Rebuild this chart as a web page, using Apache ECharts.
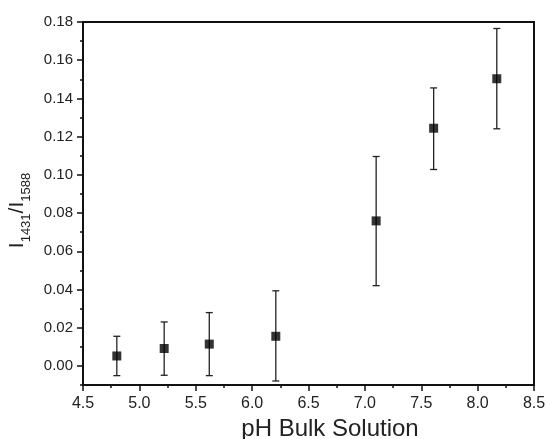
<!DOCTYPE html>
<html>
<head>
<meta charset="utf-8">
<script src="https://cdn.jsdelivr.net/npm/echarts@6/dist/echarts.min.js"></script>
<style>
  html, body { margin: 0; padding: 0; background: #fff; }
  #chart-container { width: 548px; height: 439px; }
</style>
</head>
<body>
<div id="chart-container"></div>
<script>
var phValues = [4.80, 5.22, 5.62, 6.21, 7.10, 7.61, 8.17];
var ratioValues = [0.0052, 0.0091, 0.0114, 0.0155, 0.0759, 0.1244, 0.1503];
var errTop = [0.0155, 0.0230, 0.0279, 0.0393, 0.1096, 0.1455, 0.1766];
var errBottom = [-0.0051, -0.0049, -0.0051, -0.0079, 0.0420, 0.1028, 0.1241];
var yLabelValues = [0, 0.02, 0.04, 0.06, 0.08, 0.10, 0.12, 0.14, 0.16, 0.18];

var dom = document.getElementById('chart-container');
var myChart = echarts.init(dom, null, { renderer: 'canvas' });

var points = phValues.map(function (x, i) { return [x, ratioValues[i]]; });
var bars = phValues.map(function (x, i) { return [x, errBottom[i], errTop[i]]; });
var font = 'Liberation Sans, Arial, sans-serif';

var option = {
    animation: false,
    grid: {
        left: 83, right: 14, top: 22, bottom: 54,
        outerBoundsMode: 'none',
        containLabel: false,
        show: true, borderColor: '#111', borderWidth: 2
    },
    xAxis: {
        type: 'value',
        min: 4.5, max: 8.5, interval: 0.5,
        name: 'pH Bulk Solution',
        nameLocation: 'middle',
        nameGap: 32,
        nameTextStyle: { fontFamily: font, fontSize: 24, color: '#222', padding: [0, 0, 0, 43] },
        axisLine: { onZero: false, lineStyle: { color: '#111', width: 2 } },
        axisTick: { length: 6, lineStyle: { color: '#111', width: 1.5 } },
        minorTick: { show: true, splitNumber: 2, length: 3, lineStyle: { color: '#111', width: 1.5 } },
        splitLine: { show: false },
        axisLabel: {
            fontFamily: font, fontSize: 16, color: '#222', margin: 11,
            formatter: function (v) { return v.toFixed(1); }
        }
    },
    yAxis: [{
        type: 'value',
        min: -0.01, max: 0.18, interval: 0.01,
        name: '{m|I}{s|1431}{m|/I}{s|1588}',
        nameLocation: 'middle',
        nameGap: 55,
        nameTextStyle: {
            padding: [0, 14, 0, 0],
            rich: {
                m: { fontFamily: font, fontSize: 21, color: '#222', verticalAlign: 'bottom', lineHeight: 24 },
                s: { fontFamily: font, fontSize: 13, color: '#222', verticalAlign: 'bottom', lineHeight: 24, padding: [0, 0, -5, 0] }
            }
        },
        axisLine: { lineStyle: { color: '#111', width: 2 } },
        axisTick: { length: 6, customValues: yLabelValues, lineStyle: { color: '#111', width: 1.5 } },
        splitLine: { show: false },
        axisLabel: {
            customValues: yLabelValues,
            fontFamily: font, fontSize: 15, color: '#222', margin: 10,
            formatter: function (v) { return v.toFixed(2); }
        }
    }, {
        type: 'value',
        position: 'left',
        min: -0.01, max: 0.18, interval: 0.01,
        axisLine: { show: false },
        axisTick: { show: true, length: 3, lineStyle: { color: '#111', width: 1.5 } },
        axisLabel: { show: false },
        splitLine: { show: false }
    }],
    series: [{
        type: 'custom',
        data: bars,
        z: 2,
        renderItem: function (params, api) {
            var x = api.value(0);
            var lo = api.coord([x, api.value(1)]);
            var hi = api.coord([x, api.value(2)]);
            var cap = 3.5;
            var style = { stroke: '#222', lineWidth: 1.3 };
            return {
                type: 'group',
                children: [
                    { type: 'line', shape: { x1: lo[0], y1: lo[1], x2: hi[0], y2: hi[1] }, style: style },
                    { type: 'line', shape: { x1: hi[0] - cap, y1: hi[1], x2: hi[0] + cap, y2: hi[1] }, style: style },
                    { type: 'line', shape: { x1: lo[0] - cap, y1: lo[1], x2: lo[0] + cap, y2: lo[1] }, style: style }
                ]
            };
        }
    }, {
        type: 'scatter',
        data: points,
        symbol: 'rect',
        symbolSize: 9,
        z: 3,
        itemStyle: { color: '#000' }
    }]
};

myChart.setOption(option);
window.addEventListener('resize', myChart.resize);
</script>
</body>
</html>
